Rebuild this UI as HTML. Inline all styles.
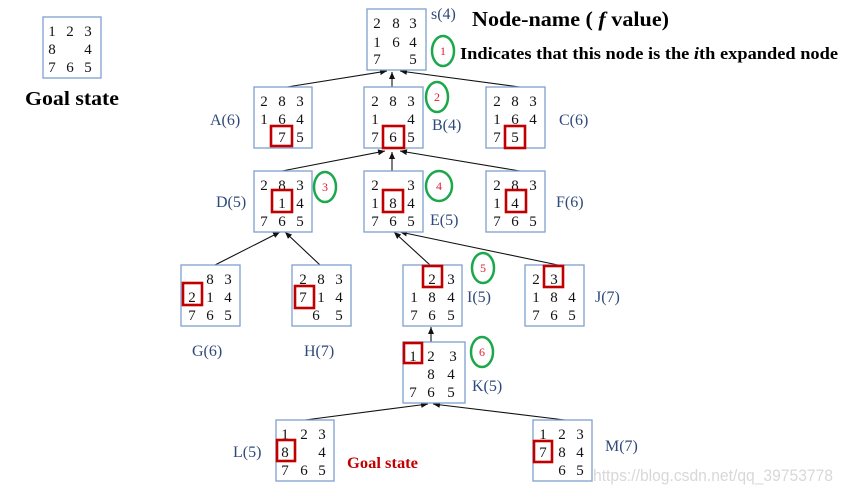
<!DOCTYPE html>
<html><head><meta charset="utf-8"><style>
html,body{margin:0;padding:0;background:#fff;}
svg{display:block;}
.d{font-family:"Liberation Serif",serif;font-size:15px;fill:#111;text-anchor:middle;}
.b{fill:#fff;stroke:#7f9fd0;stroke-width:1.3;}
.r{fill:none;stroke:#c00000;stroke-width:2.6;}
.l{font-family:"Liberation Serif",serif;font-size:16px;fill:#2f4a7a;}
.c{fill:none;stroke:#1aa84a;stroke-width:2.5;}
.n{font-family:"Liberation Serif",serif;font-size:12px;fill:#e0203a;text-anchor:middle;}
.e{stroke:#111;stroke-width:1.1;fill:none;marker-end:url(#a);}
</style></head><body>
<svg width="843" height="494" viewBox="0 0 843 494" xmlns="http://www.w3.org/2000/svg">
<defs><marker id="a" markerWidth="8" markerHeight="8" refX="7" refY="3" orient="auto" markerUnits="userSpaceOnUse"><path d="M0,0 L7,3 L0,6 z" fill="#111"/></marker></defs>

<rect class="b" x="43" y="17" width="58" height="61"/>
<g class="d"><text x="52" y="36">1</text><text x="70" y="36">2</text><text x="88" y="36">3</text>
<text x="52" y="54">8</text><text x="88" y="54">4</text>
<text x="52" y="72">7</text><text x="70" y="72">6</text><text x="88" y="72">5</text></g>
<text x="25" y="105" font-family="Liberation Serif,serif" font-weight="bold" font-size="20" textLength="94" lengthAdjust="spacingAndGlyphs">Goal state</text>

<text x="472" y="26" font-family="Liberation Serif,serif" font-weight="bold" font-size="21" textLength="197" lengthAdjust="spacingAndGlyphs">Node-name ( <tspan font-style="italic">f</tspan> value)</text>
<text x="460" y="59" font-family="Liberation Serif,serif" font-weight="bold" font-size="17" textLength="378" lengthAdjust="spacingAndGlyphs">Indicates that this node is the <tspan font-style="italic">i</tspan>th expanded node</text>

<line class="e" x1="287" y1="87" x2="387" y2="71"/>
<line class="e" x1="392" y1="87" x2="392" y2="72"/>
<line class="e" x1="520" y1="87" x2="400" y2="71"/>
<line class="e" x1="282" y1="171" x2="385" y2="151"/>
<line class="e" x1="392" y1="171" x2="392" y2="152"/>
<line class="e" x1="520" y1="171" x2="400" y2="151"/>
<line class="e" x1="215" y1="265" x2="280" y2="232"/>
<line class="e" x1="320" y1="265" x2="285" y2="232"/>
<line class="e" x1="430" y1="265" x2="394" y2="232"/>
<line class="e" x1="558" y1="265" x2="400" y2="232"/>
<line class="e" x1="431" y1="342" x2="431" y2="327"/>
<line class="e" x1="305" y1="420" x2="428" y2="404"/>
<line class="e" x1="565" y1="420" x2="433" y2="404"/>

<rect class="b" x="367" y="9" width="59" height="61"/>
<g class="d"><text x="377" y="28">2</text><text x="396" y="28">8</text><text x="413" y="28">3</text>
<text x="377" y="47">1</text><text x="396" y="47">6</text><text x="413" y="47">4</text>
<text x="377" y="64">7</text><text x="413" y="64">5</text></g>
<text class="l" x="431" y="19">s(4)</text>
<ellipse class="c" cx="443" cy="51" rx="11" ry="15"/><text class="n" x="443" y="55">1</text>

<rect class="b" x="254" y="87" width="58" height="61"/>
<g class="d"><text x="264" y="106">2</text><text x="282" y="106">8</text><text x="300" y="106">3</text>
<text x="264" y="124">1</text><text x="282" y="124">6</text><text x="300" y="124">4</text>
<text x="282" y="142">7</text><text x="300" y="142">5</text></g>
<rect class="r" x="271" y="126" width="21" height="20"/>
<text class="l" x="210" y="125">A(6)</text>

<rect class="b" x="364" y="87" width="59" height="61"/>
<g class="d"><text x="375" y="106">2</text><text x="393" y="106">8</text><text x="411" y="106">3</text>
<text x="375" y="124">1</text><text x="411" y="124">4</text>
<text x="375" y="142">7</text><text x="393" y="142">6</text><text x="411" y="142">5</text></g>
<rect class="r" x="383" y="126" width="21" height="22"/>
<text class="l" x="432" y="130">B(4)</text>
<ellipse class="c" cx="437" cy="97" rx="11" ry="15"/><text class="n" x="437" y="101">2</text>

<rect class="b" x="486" y="87" width="59" height="61"/>
<g class="d"><text x="497" y="106">2</text><text x="515" y="106">8</text><text x="533" y="106">3</text>
<text x="497" y="124">1</text><text x="515" y="124">6</text><text x="533" y="124">4</text>
<text x="497" y="142">7</text><text x="515" y="142">5</text></g>
<rect class="r" x="505" y="126" width="20" height="22"/>
<text class="l" x="559" y="125">C(6)</text>

<rect class="b" x="254" y="171" width="58" height="61"/>
<g class="d"><text x="264" y="190">2</text><text x="282" y="190">8</text><text x="300" y="190">3</text>
<text x="282" y="208">1</text><text x="300" y="208">4</text>
<text x="264" y="226">7</text><text x="282" y="226">6</text><text x="300" y="226">5</text></g>
<rect class="r" x="272" y="190" width="20" height="22"/>
<text class="l" x="216" y="207">D(5)</text>
<ellipse class="c" cx="325" cy="187" rx="11" ry="15"/><text class="n" x="325" y="191">3</text>

<rect class="b" x="364" y="171" width="59" height="61"/>
<g class="d"><text x="375" y="190">2</text><text x="411" y="190">3</text>
<text x="375" y="208">1</text><text x="393" y="208">8</text><text x="411" y="208">4</text>
<text x="375" y="226">7</text><text x="393" y="226">6</text><text x="411" y="226">5</text></g>
<rect class="r" x="383" y="190" width="20" height="22"/>
<text class="l" x="430" y="225">E(5)</text>
<ellipse class="c" cx="439" cy="186" rx="13" ry="15"/><text class="n" x="439" y="190">4</text>

<rect class="b" x="486" y="171" width="59" height="61"/>
<g class="d"><text x="497" y="190">2</text><text x="515" y="190">8</text><text x="533" y="190">3</text>
<text x="497" y="208">1</text><text x="515" y="208">4</text>
<text x="497" y="226">7</text><text x="515" y="226">6</text><text x="533" y="226">5</text></g>
<rect class="r" x="506" y="190" width="20" height="22"/>
<text class="l" x="556" y="207">F(6)</text>

<rect class="b" x="181" y="265" width="59" height="61"/>
<g class="d"><text x="210" y="284">8</text><text x="228" y="284">3</text>
<text x="192" y="302">2</text><text x="210" y="302">1</text><text x="228" y="302">4</text>
<text x="192" y="320">7</text><text x="210" y="320">6</text><text x="228" y="320">5</text></g>
<rect class="r" x="183" y="283" width="19" height="22"/>
<text class="l" x="192" y="356">G(6)</text>

<rect class="b" x="292" y="265" width="59" height="61"/>
<g class="d"><text x="303" y="284">2</text><text x="321" y="284">8</text><text x="339" y="284">3</text>
<text x="303" y="302">7</text><text x="321" y="302">1</text><text x="339" y="302">4</text>
<text x="316" y="320">6</text><text x="339" y="320">5</text></g>
<rect class="r" x="295" y="286" width="19" height="22"/>
<text class="l" x="304" y="356">H(7)</text>

<rect class="b" x="403" y="265" width="59" height="61"/>
<g class="d"><text x="432" y="284">2</text><text x="451" y="284">3</text>
<text x="414" y="302">1</text><text x="432" y="302">8</text><text x="451" y="302">4</text>
<text x="414" y="320">7</text><text x="432" y="320">6</text><text x="451" y="320">5</text></g>
<rect class="r" x="423" y="266" width="19" height="21"/>
<text class="l" x="467" y="302">I(5)</text>
<ellipse class="c" cx="483" cy="268" rx="11" ry="15"/><text class="n" x="483" y="272">5</text>

<rect class="b" x="525" y="265" width="59" height="61"/>
<g class="d"><text x="536" y="284">2</text><text x="554" y="284">3</text>
<text x="536" y="302">1</text><text x="554" y="302">8</text><text x="572" y="302">4</text>
<text x="536" y="320">7</text><text x="554" y="320">6</text><text x="572" y="320">5</text></g>
<rect class="r" x="544" y="266" width="19" height="21"/>
<text class="l" x="595" y="302">J(7)</text>

<rect class="b" x="403" y="342" width="62" height="61"/>
<g class="d"><text x="413" y="361">1</text><text x="431" y="361">2</text><text x="453" y="361">3</text>
<text x="431" y="379">8</text><text x="451" y="379">4</text>
<text x="413" y="397">7</text><text x="431" y="397">6</text><text x="451" y="397">5</text></g>
<rect class="r" x="404" y="343" width="18" height="20"/>
<text class="l" x="472" y="391">K(5)</text>
<ellipse class="c" cx="482" cy="352" rx="11" ry="15"/><text class="n" x="482" y="356">6</text>

<rect class="b" x="276" y="420" width="58" height="61"/>
<g class="d"><text x="285" y="439">1</text><text x="304" y="439">2</text><text x="322" y="439">3</text>
<text x="285" y="457">8</text><text x="322" y="457">4</text>
<text x="285" y="475">7</text><text x="304" y="475">6</text><text x="322" y="475">5</text></g>
<rect class="r" x="277" y="440" width="18" height="21"/>
<text class="l" x="233" y="457">L(5)</text>
<text x="347" y="468" font-family="Liberation Serif,serif" font-weight="bold" font-size="16" fill="#c00000" textLength="71" lengthAdjust="spacingAndGlyphs">Goal state</text>

<rect class="b" x="533" y="420" width="59" height="61"/>
<g class="d"><text x="543" y="439">1</text><text x="562" y="439">2</text><text x="580" y="439">3</text>
<text x="543" y="457">7</text><text x="562" y="457">8</text><text x="580" y="457">4</text>
<text x="562" y="475">6</text><text x="580" y="475">5</text></g>
<rect class="r" x="534" y="441" width="18" height="21"/>
<text class="l" x="605" y="451">M(7)</text>

<text x="593" y="481" font-family="Liberation Sans,sans-serif" font-size="16.5" fill="#d8d8d8" textLength="240" lengthAdjust="spacingAndGlyphs">https://blog.csdn.net/qq_39753778</text>
</svg>
</body></html>
